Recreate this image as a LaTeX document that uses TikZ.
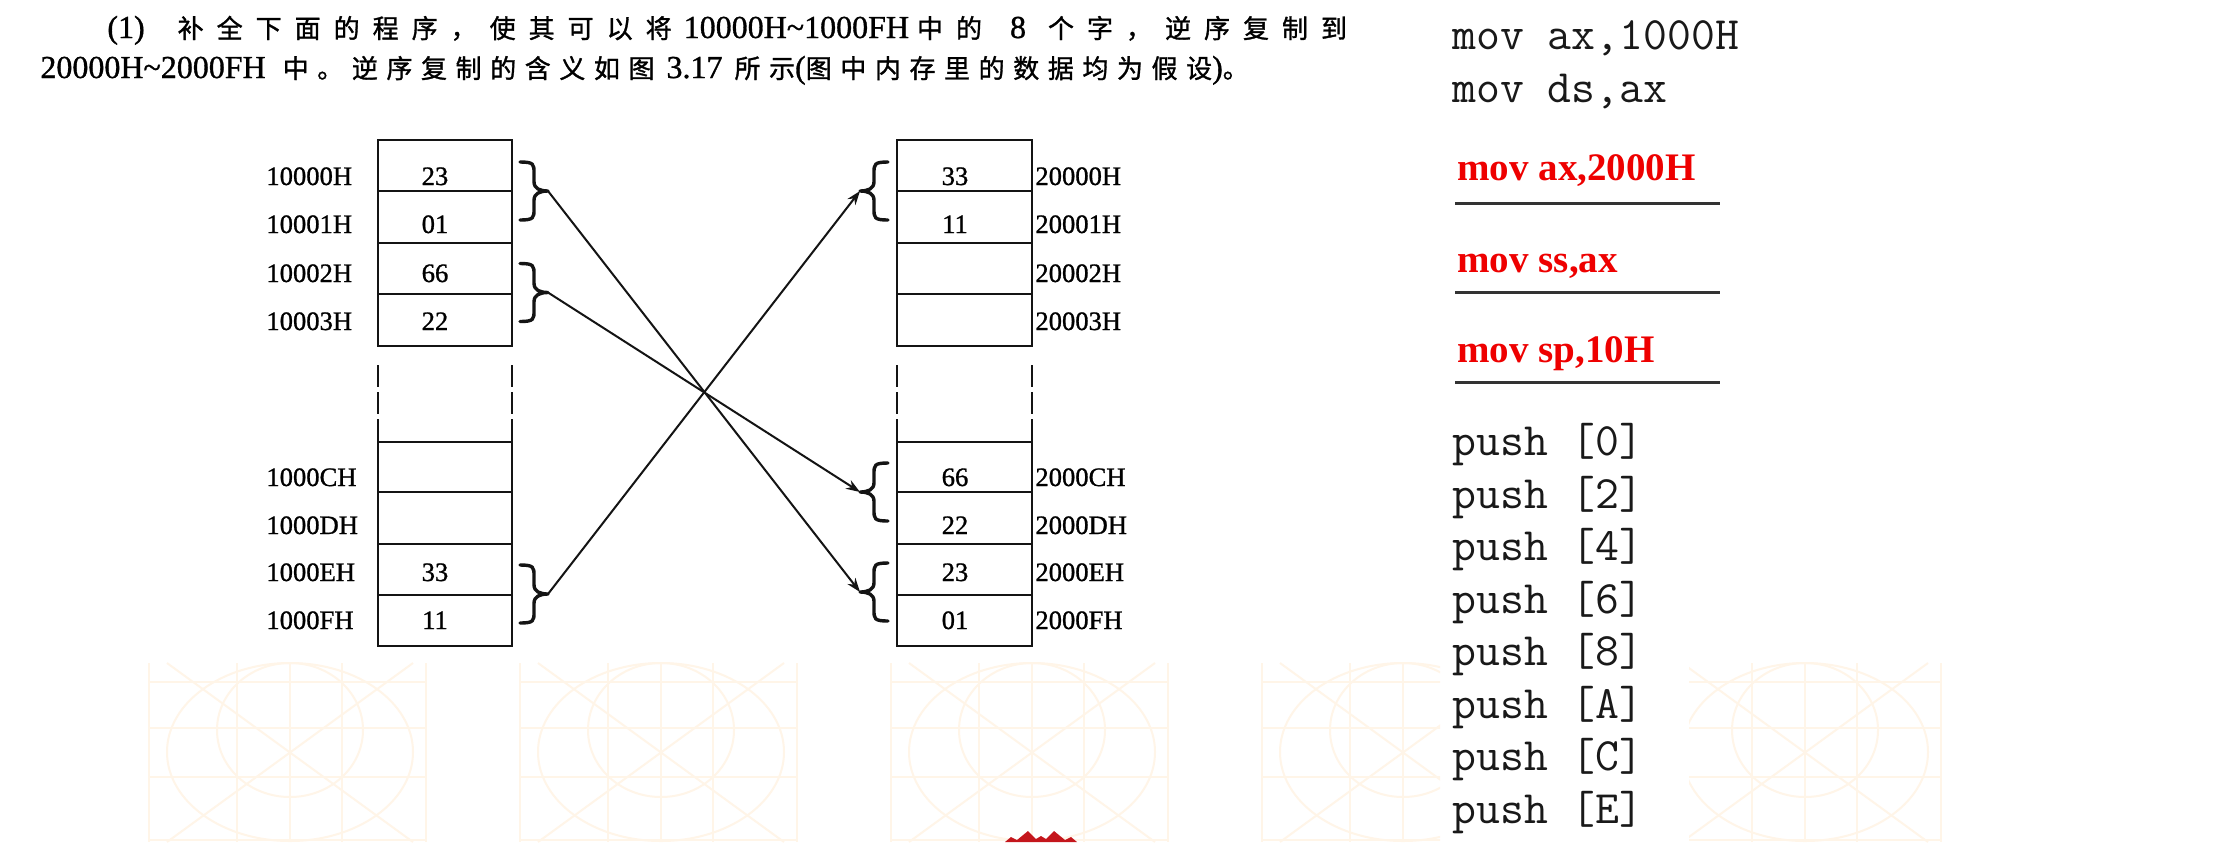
\documentclass[tikz,border=0pt]{standalone}
\usepackage{fontspec}
\setmainfont{Liberation Serif}
\newfontfamily\serifd{Liberation Serif}[FakeBold=1]
\newfontfamily\cjkAf{Noto Sans CJK SC}[LetterSpace=50,FakeBold=1.2]
\newfontfamily\cjkBf{Noto Sans CJK SC}[LetterSpace=33,FakeBold=1.2]
\usetikzlibrary{arrows.meta}
\newcommand\cjkone{\cjkAf\fontsize{13pt}{15pt}\selectfont}
\newcommand\cjktwo{\cjkBf\fontsize{13pt}{15pt}\selectfont}
\definecolor{wmcol}{RGB}{255,245,232}
\definecolor{crowncol}{RGB}{196,22,28}
\definecolor{codecol}{RGB}{25,25,25}
\definecolor{ansred}{RGB}{238,0,0}
\definecolor{inkcol}{RGB}{20,20,20}
\tikzset{
  curly/.pic={
    \draw[line width=1.7pt, line cap=round, line join=round, inkcol]
      (0,-1) .. controls (0.5,-1) and (0.5,-0.92) .. (0.5,-0.62)
      -- (0.5,-0.32) .. controls (0.5,-0.08) and (0.72,0) .. (1,0)
      .. controls (0.72,0) and (0.5,0.08) .. (0.5,0.32)
      -- (0.5,0.62) .. controls (0.5,0.92) and (0.5,1) .. (0,1);
  }
}
\newcommand\wmtile[2]{%
  \begin{scope}[shift={(#1,#2)}]
    \foreach \hy in {19,65,114,177} \draw[wm] (-141,\hy) -- (136,\hy);
    \foreach \vx in {-141,-53,0,52,136} \draw[wm] (\vx,0) -- (\vx,179);
    \draw[wm] (0,89) ellipse [x radius=123, y radius=89];
    \draw[wm] (0,67) ellipse [x radius=73, y radius=67];
    \draw[wm] (-123,0) -- (123,179);
    \draw[wm] (123,0) -- (-123,179);
  \end{scope}}
\begin{document}
\begin{tikzpicture}[x=0.5pt,y=-0.5pt,
  memline/.style={line width=1.4pt, draw=inkcol},
  lab/.style={font=\serifd\fontsize{13.3pt}{16pt}\selectfont, inner sep=0pt, anchor=base west},
  val/.style={font=\serifd\fontsize{13.3pt}{16pt}\selectfont, inner sep=0pt, anchor=base},
  arr/.style={line width=1pt, draw=inkcol, -{Stealth[length=7pt,width=5pt]}},
  code/.style={font=\ttfamily\fontsize{23.2pt}{26pt}\selectfont, text=codecol, inner sep=0pt, anchor=base west},
  ans/.style={font=\bfseries\fontsize{19.5pt}{24pt}\selectfont, text=ansred, inner sep=0pt, anchor=base west},
  head/.style={font=\serifd\fontsize{16pt}{20pt}\selectfont, inner sep=0pt, anchor=base west},
  wm/.style={line width=1pt, draw=wmcol},
  uline/.style={line width=1.5pt, draw=black!80}
]
\fill[white] (0,0) rectangle (2230,842);
\useasboundingbox (0,0) rectangle (2230,842);

% faint watermark tiles
\wmtile{290}{663}
\wmtile{661}{663}
\wmtile{1032}{663}
\begin{scope}
  \clip (1200,600) rectangle (1440,842);
  \wmtile{1403}{663}
\end{scope}
\begin{scope}
  \clip (1689,590) rectangle (2230,842);
  \wmtile{1805}{663}
\end{scope}
\fill[crowncol] (1005,842) -- (1011,837) -- (1017,840) -- (1028,831) -- (1036,839)
  -- (1041,836) -- (1046,839) -- (1054,831) -- (1065,840) -- (1071,837) -- (1077,842) -- cycle;

% heading
\node[head] (line1) at (107,38) {(1)\hspace{16.5pt}{\cjkone 补全下面的程序，使其可以将}\hspace{6pt}10000H\textasciitilde 1000FH\hspace{4pt}{\cjkone 中的}\hspace{14pt}8\hspace{11pt}{\cjkone 个字，逆序复制到}};
\node[head] (line2) at (40,78) {20000H\textasciitilde 2000FH\hspace{8.5pt}{\cjktwo 中。逆序复制的含义如图}\hspace{6pt}3.17\hspace{6pt}{\cjktwo 所示}({\cjktwo 图中内存里的数据均为假设}){\cjktwo 。}};

% memory boxes
\foreach \xl/\xr in {378/512, 897/1032} {
  \draw[memline] (\xl,140) rectangle (\xr,346);
  \foreach \yy in {191,243,294} \draw[memline] (\xl,\yy) -- (\xr,\yy);
  \draw[memline] (\xl,442) rectangle (\xr,646);
  \foreach \yy in {492,544,595} \draw[memline] (\xl,\yy) -- (\xr,\yy);
  \draw[memline, dash pattern=on 11pt off 2.5pt] (\xl,365) -- (\xl,442);
  \draw[memline, dash pattern=on 11pt off 2.5pt] (\xr,365) -- (\xr,442);
}

% left addresses
\node[lab] (a0) at (266,185) {10000H};
\node[lab] (a1) at (266,233) {10001H};
\node[lab] (a2) at (266,282) {10002H};
\node[lab] (a3) at (266,330) {10003H};
\node[lab] (ac) at (266,486) {1000CH};
\node[lab] (ad) at (266,534) {1000DH};
\node[lab] (ae) at (266,581) {1000EH};
\node[lab] (af) at (266,629) {1000FH};
% right addresses
\node[lab] (b0) at (1035,185) {20000H};
\node[lab] (b1) at (1035,233) {20001H};
\node[lab] (b2) at (1035,282) {20002H};
\node[lab] (b3) at (1035,330) {20003H};
\node[lab] (bc) at (1035,486) {2000CH};
\node[lab] (bd) at (1035,534) {2000DH};
\node[lab] (be) at (1035,581) {2000EH};
\node[lab] (bf) at (1035,629) {2000FH};
% left values
\node[val] (v0) at (435,185) {23};
\node[val] (v1) at (435,233) {01};
\node[val] (v2) at (435,282) {66};
\node[val] (v3) at (435,330) {22};
\node[val] (ve) at (435,581) {33};
\node[val] (vf) at (435,629) {11};
% right values
\node[val] (w0) at (955,185) {33};
\node[val] (w1) at (955,233) {11};
\node[val] (wc) at (955,486) {66};
\node[val] (wd) at (955,534) {22};
\node[val] (we) at (955,581) {23};
\node[val] (wf) at (955,629) {01};

% braces
\pic[xscale=28, yscale=29] at (520,191) {curly};
\pic[xscale=28, yscale=29] at (520,292.5) {curly};
\pic[xscale=28, yscale=29] at (520,594) {curly};
\pic[xscale=-28, yscale=29] at (888,191) {curly};
\pic[xscale=-28, yscale=29] at (888,492) {curly};
\pic[xscale=-28, yscale=29] at (888,592) {curly};
\coordinate (L1) at (548,191);
\coordinate (L2) at (548,292.5);
\coordinate (L3) at (548,594);
\coordinate (R1) at (860,191);
\coordinate (R2) at (860,492);
\coordinate (R3) at (860,592);

% arrows
\draw[arr] (L1) -- (R3);
\draw[arr] (L2) -- (R2);
\draw[arr] (L3) -- (R1);

% code
\node[code] (c1) at (1452,49) {mov ax,1000H};
\node[code] (c2) at (1452,102) {mov ds,ax};
\node[ans] (r1) at (1457,180) {mov ax,2000H};
\coordinate (u1a) at (1455,203); \coordinate (u1b) at (1720,203);
\draw[uline] (u1a) -- (u1b);
\node[ans] (r2) at (1457,272) {mov ss,ax};
\coordinate (u2a) at (1455,292); \coordinate (u2b) at (1720,292);
\draw[uline] (u2a) -- (u2b);
\node[ans] (r3) at (1457,362) {mov sp,10H};
\coordinate (u3a) at (1455,382); \coordinate (u3b) at (1720,382);
\draw[uline] (u3a) -- (u3b);
\node[code] (p0) at (1452,455) {push [0]};
\node[code] (p2) at (1452,508) {push [2]};
\node[code] (p4) at (1452,560) {push [4]};
\node[code] (p6) at (1452,613) {push [6]};
\node[code] (p8) at (1452,665) {push [8]};
\node[code] (pA) at (1452,718) {push [A]};
\node[code] (pC) at (1452,770) {push [C]};
\node[code] (pE) at (1452,823) {push [E]};
\end{tikzpicture}
\end{document}
